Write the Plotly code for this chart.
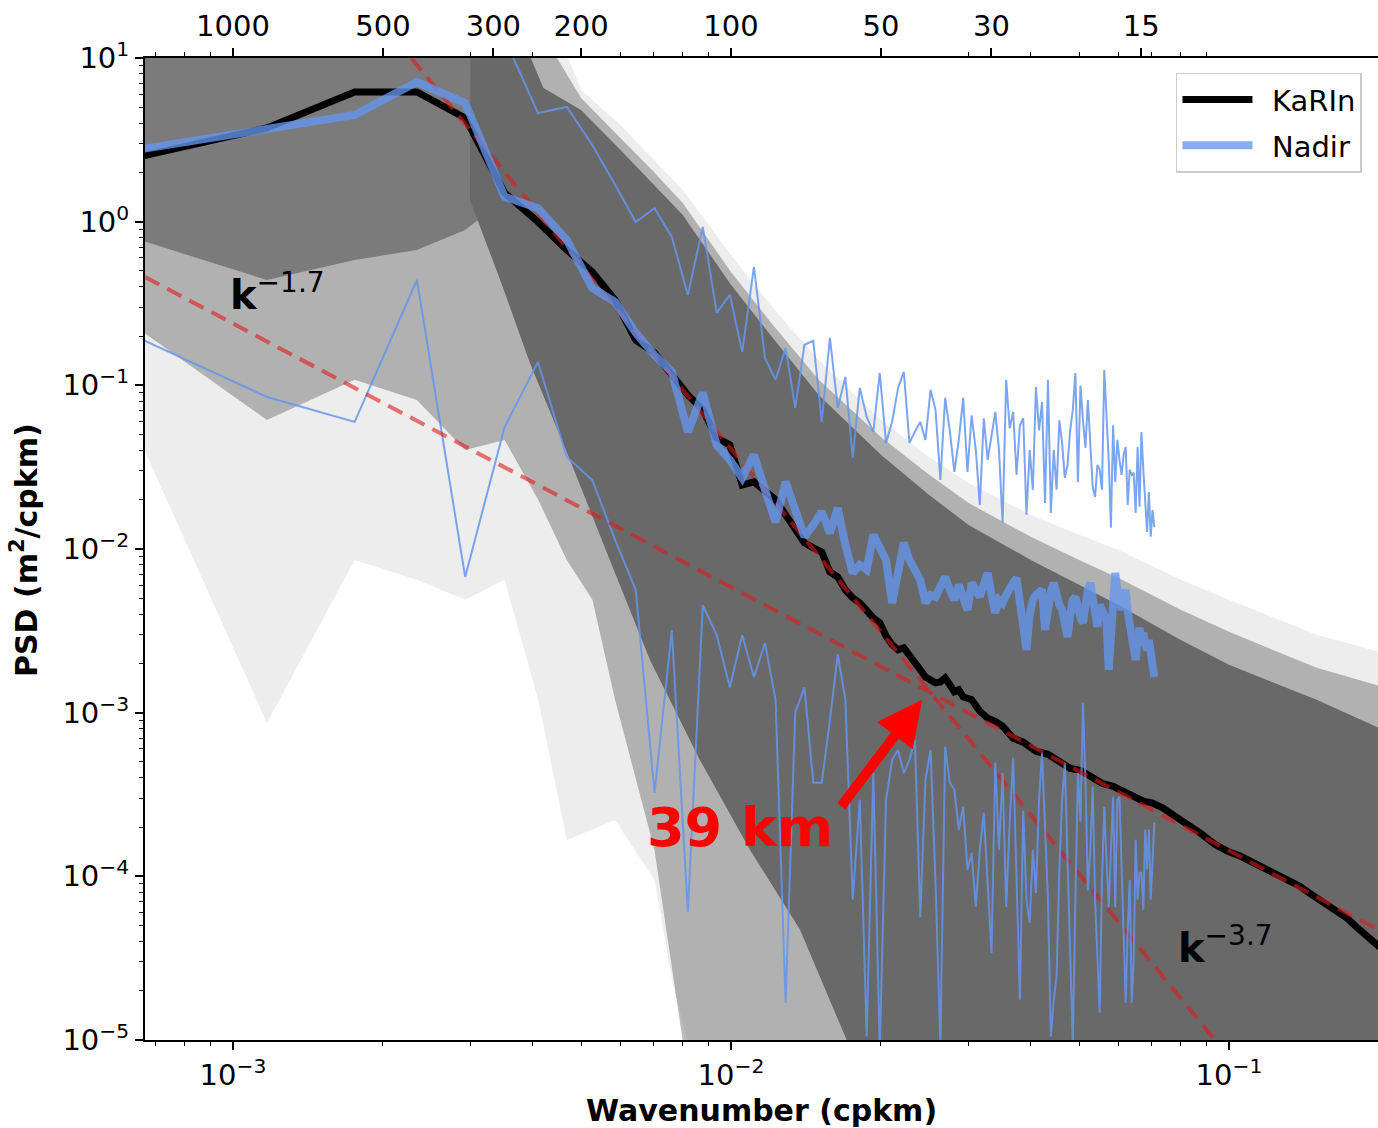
import math
import plotly.graph_objects as go

# ------------------------------------------------------------------ data
DK = 1.0 / 1709.0          # fundamental wavenumber of the spectra (cpkm)

# Nadir spectra on harmonic index n = 1..121
nadir_n = list(range(1, 122))
nadir_mean_psd = [
    2.63, 3.68, 4.49, 7.13, 5.31, 1.42, 1.21, 0.773, 0.394, 0.323,
    0.209, 0.153, 0.121, 0.0519, 0.0899, 0.0432, 0.0350, 0.0272, 0.0376, 0.0230,
    0.0146, 0.0257, 0.0173, 0.0119, 0.0140, 0.0169, 0.0125, 0.0178, 0.0106, 0.00714,
    0.00800, 0.00746, 0.0122, 0.00987, 0.00858, 0.00468, 0.00746, 0.0109, 0.00858, 0.00725,
    0.00648, 0.00468, 0.00524, 0.00510, 0.00604, 0.00675, 0.00563, 0.00489, 0.00604, 0.00524,
    0.00425, 0.00621, 0.00547, 0.00510, 0.00604, 0.00714, 0.00524, 0.00407, 0.00489, 0.00468,
    0.00524, 0.00587, 0.00621, 0.00666, 0.00489, 0.00369, 0.00242, 0.00396, 0.00489, 0.00524,
    0.00547, 0.00563, 0.00320, 0.00455, 0.00547, 0.00621, 0.00503, 0.00455, 0.00425, 0.00344,
    0.00290, 0.00396, 0.00489, 0.00510, 0.00425, 0.00379, 0.00354, 0.00489, 0.00563, 0.00621,
    0.00489, 0.00396, 0.00334, 0.00455, 0.00413, 0.00379, 0.00369, 0.00183, 0.00320, 0.00563,
    0.00714, 0.00563, 0.00489, 0.00425, 0.00489, 0.00563, 0.00413, 0.00344, 0.00290, 0.00242,
    0.00210, 0.00278, 0.00330, 0.00278, 0.00307, 0.00260, 0.00242, 0.00278, 0.00219, 0.00196,
    0.00165]

nadir_lo_psd = [
    0.224, 0.0849, 0.0598, 0.440, 0.00675, 0.0557, 0.139, 0.0365, 0.0264, 0.01136,
    0.00563, 3.24e-4, 0.00319, 6.07e-5, 0.00454, 0.00298, 0.00143, 0.00298, 0.00165, 0.00266,
    0.0012, 1.69e-5, 0.0010, 0.00143, 3.73e-4, 3.73e-4, 9.0e-4, 0.00227, 0.0012, 7.2e-5,
    2.93e-4, 1.05e-5, 4.28e-4, 8.7e-6, 2.93e-4, 5.15e-4, 5.92e-4, 4.28e-4, 5.15e-4, 6.82e-4,
    5.64e-5, 3.89e-4, 5.92e-4, 9.1e-5, 9.3e-6, 6.18e-4, 3.73e-4, 3.38e-4, 1.93e-4, 2.66e-4,
    1.10e-4, 1.39e-4, 6.5e-5, 1.45e-4, 2.45e-4, 9.5e-5, 3.4e-5, 4.94e-4, 1.45e-4, 4.28e-4,
    6.5e-5, 2.16e-4, 5.3e-4, 9.5e-5, 1.76e-5, 2.52e-4, 7.2e-5, 5.19e-5, 1.45e-4, 7.9e-5,
    2.93e-4, 5.68e-4, 1.85e-4, 7.2e-5, 1.05e-5, 1.76e-5, 2.43e-5, 1.10e-4, 2.93e-4, 4.94e-4,
    1.26e-4, 3.08e-5, 9.3e-6, 7.2e-5, 4.28e-4, 2.16e-4, 1.15e-3, 3.89e-4, 8.2e-5, 1.45e-4,
    3.53e-4, 7.2e-5, 3.57e-5, 1.47e-5, 9.5e-5, 2.66e-4, 1.26e-4, 6.5e-5, 1.45e-4, 3.06e-4,
    6.5e-5, 2.93e-4, 3.06e-4, 1.10e-4, 4.7e-5, 1.69e-5, 4.7e-5, 9.5e-5, 1.69e-5, 3.08e-5,
    1.67e-4, 7.2e-5, 1.05e-4, 1.05e-4, 6.25e-5, 1.93e-4, 1.10e-4, 1.93e-4, 7.2e-5, 1.32e-4,
    2.13e-4]

nadir_hi_n = list(range(6, 122))
nadir_hi_psd = [
    13.2, 4.61, 5.02, 2.94, 1.68,
    0.996, 1.21, 0.806, 0.357, 0.928, 0.277, 0.357, 0.160, 0.529, 0.147,
    0.108, 0.169, 0.0728, 0.177, 0.187, 0.0598, 0.195, 0.0728, 0.1125, 0.036,
    0.0964, 0.0641, 0.0519, 0.119, 0.0445, 0.0598, 0.0964, 0.121, 0.0445, 0.052,
    0.0598, 0.0464, 0.0939, 0.0708, 0.0264, 0.0838, 0.0531, 0.0296, 0.0464, 0.0838,
    0.0296, 0.0656, 0.0403, 0.0186, 0.0629, 0.0350, 0.0498, 0.0688, 0.0403, 0.0144,
    0.108, 0.0546, 0.0688, 0.0284, 0.0570, 0.0629, 0.0162, 0.0403, 0.023, 0.0978,
    0.0531, 0.0792, 0.0191, 0.108, 0.0166, 0.0403, 0.023, 0.0611, 0.0445, 0.0272,
    0.0326, 0.0531, 0.0708, 0.119, 0.0257, 0.0996, 0.0611, 0.0415, 0.0814, 0.0403,
    0.0240, 0.0208, 0.0326, 0.0305, 0.023, 0.124, 0.0611, 0.035, 0.0135, 0.057,
    0.0257, 0.0464, 0.035, 0.0284, 0.0376, 0.042, 0.0186, 0.0305, 0.0284, 0.0292,
    0.0166, 0.042, 0.0181, 0.0519, 0.0305, 0.0181, 0.0127, 0.0223, 0.0119, 0.0173,
    0.0136]

# KaRIn mean spectrum
karin_n = list(range(1, 51)) + [52, 54, 56, 58, 60, 63, 66, 70, 74, 78, 82, 86, 90, 95, 100,
                                105, 110, 115, 120, 126, 133, 140, 150, 160, 170, 180, 190,
                                200, 212, 225, 237, 250, 265, 280, 295, 310, 330, 345]
karin_psd = [
    2.32, 3.74, 6.20, 6.20, 4.30, 1.50, 0.996, 0.672, 0.493, 0.332,
    0.189, 0.158, 0.116, 0.0874, 0.0708, 0.0477, 0.0432, 0.0246, 0.0257, 0.0224,
    0.0200, 0.01615, 0.0131, 0.0109, 0.01016, 0.0096, 0.00725, 0.00675, 0.00563, 0.00503,
    0.00468, 0.00413, 0.00379, 0.00354, 0.00294, 0.0026, 0.00242, 0.00249, 0.00227, 0.00201,
    0.00183, 0.00165, 0.00159, 0.00152, 0.00154, 0.00163, 0.00148, 0.00134, 0.00138, 0.00125,
    0.00120, 0.00102, 9.24e-4, 8.86e-4, 8.26e-4, 6.98e-4, 6.60e-4, 5.81e-4, 5.57e-4, 4.98e-4,
    4.57e-4, 4.45e-4, 4.09e-4, 3.70e-4, 3.55e-4, 3.31e-4, 3.08e-4, 2.88e-4, 2.80e-4, 2.61e-4,
    2.33e-4, 2.11e-4, 1.83e-4, 1.57e-4, 1.42e-4, 1.33e-4, 1.22e-4, 1.15e-4, 1.04e-4, 9.47e-5,
    8.70e-5, 7.77e-5, 6.95e-5, 6.12e-5, 5.55e-5, 4.82e-5, 4.13e-5, 3.64e-5]

# power-law fits (end points)
fit_steep_k = [2.28e-3, 9.37e-2]
fit_steep_psd = [10.0, 1.0e-5]
fit_shallow_k = [6.66e-4, 0.2]
fit_shallow_psd = [0.459, 4.7e-5]

# envelopes of the individual KaRIn spectra (grey bundle), closed polygons
env_light_k = [6.5e-4, 4.3e-3, 0.005, 0.006, 0.007, 0.008, 0.01, 0.012, 0.015, 0.02, 0.025,
               0.03, 0.04, 0.05, 0.06, 0.08, 0.1, 0.15, 0.25,
               0.25, 8.67e-3, 7.65e-3, 7.02e-3, 5.85e-3, 4.68e-3, 4.10e-3, 3.51e-3, 2.925e-3,
               2.34e-3, 1.755e-3, 1.17e-3, 6.5e-4]
env_light_psd = [20, 20, 6.37, 3.90, 2.38, 1.56, 0.626, 0.310, 0.143, 0.0615, 0.0365,
                 0.0253, 0.01615, 0.0122, 0.00987, 0.00648, 0.00489, 0.00299, 0.00196,
                 5e-6, 5e-6, 2.17e-5, 9.5e-5, 2.21e-4, 1.67e-4, 0.0012, 0.00648, 0.00489,
                 0.00648, 0.00858, 8.65e-4, 0.0464]

env_mid_k = [6.5e-4, 3.9e-3, 0.005, 0.006, 0.007, 0.008, 0.01, 0.012, 0.015, 0.02, 0.025,
             0.03, 0.04, 0.05, 0.06, 0.08, 0.1, 0.15, 0.25,
             0.25, 8.27e-3, 7.02e-3, 5.85e-3, 5.27e-3, 4.68e-3, 4.10e-3, 3.51e-3, 2.925e-3,
             2.34e-3, 1.755e-3, 1.17e-3, 6.5e-4]
env_mid_psd = [20, 20, 5.70, 3.25, 2.01, 1.30, 0.493, 0.244, 0.108, 0.0484, 0.0284,
               0.0191, 0.01186, 0.00858, 0.00666, 0.00425, 0.00312, 0.00188, 0.0012,
               5e-6, 5e-6, 1.45e-4, 0.0012, 0.00489, 0.00858, 0.020, 0.0464, 0.0403,
               0.0814, 0.108, 0.0615, 0.218]

env_top_k = [6.5e-4, 0.0036, 3.51e-3, 2.925e-3, 2.34e-3, 1.755e-3, 1.17e-3, 6.5e-4]
env_top_psd = [20, 20, 1.36, 0.89, 0.672, 0.583, 0.44, 0.773]

env_core_k = [0.003, 0.0036, 0.0042, 0.005, 0.006, 0.007, 0.008, 0.01, 0.012, 0.015, 0.02,
              0.025, 0.03, 0.04, 0.05, 0.06, 0.08, 0.1, 0.15, 0.25,
              0.25, 0.0188, 0.01376, 0.01092, 8.67e-3, 6.88e-3, 5.71e-3, 4.75e-3, 3.95e-3,
              3.44e-3, 2.99e-3]
env_core_psd = [20, 20, 6.56, 4.81, 2.74, 1.68, 1.10, 0.411, 0.203, 0.0874, 0.0376,
                0.0214, 0.0140, 0.00858, 0.00604, 0.00455, 0.00278, 0.00196, 0.0012, 5.92e-4,
                5e-6, 5e-6, 4.71e-5, 1.45e-4, 5.11e-4, 2.09e-3, 8.58e-3, 0.035, 0.136,
                0.44, 1.36]

# axis ticks
x_major = [1e-3, 1e-2, 1e-1]
x_major_text = ["10<sup>−3</sup>", "10<sup>−2</sup>", "10<sup>−1</sup>"]
y_major = [1e-5, 1e-4, 1e-3, 1e-2, 1e-1, 1.0, 10.0]
y_major_text = ["10<sup>−5</sup>", "10<sup>−4</sup>", "10<sup>−3</sup>", "10<sup>−2</sup>",
                "10<sup>−1</sup>", "10<sup>0</sup>", "10<sup>1</sup>"]
top_km = [1000, 500, 300, 200, 100, 50, 30, 15]
top_minor_k = [7e-4, 8e-4, 9e-4, 3e-3, 4e-3, 6e-3, 7e-3, 8e-3, 9e-3,
               0.03, 0.04, 0.05, 0.06, 0.07, 0.08, 0.09]

# annotation anchors (data coordinates)
label_shallow = (1.23e-3, 0.372)
label_steep = (0.0986, 3.82e-5)
label_39 = (0.01042, 1.98e-4)
arrow_head = (0.0242, 1.2e-3)

# ------------------------------------------------------------------ figure
X_RANGE = [-3.1767, -0.7008]
Y_RANGE = [-5, 1]
FONT = "DejaVu Sans"
GREY = "105,105,105"
BLUE = "100,149,237"
RED = "rgba(225,25,25,0.6)"

fig = go.Figure()

for k, p, a in [(env_light_k, env_light_psd, 0.12),
                (env_mid_k, env_mid_psd, 0.45),
                (env_top_k, env_top_psd, 0.75),
                (env_core_k, env_core_psd, 1.0)]:
    fig.add_trace(go.Scatter(x=k, y=p, mode="lines", fill="toself",
                             fillcolor=f"rgba({GREY},{a})", line=dict(width=0),
                             showlegend=False, hoverinfo="skip"))

fig.add_trace(go.Scatter(x=[n * DK for n in karin_n], y=karin_psd, mode="lines",
                         name="\u2002KaRIn", legendgroup="karin",
                         line=dict(color="black", width=7)))

fig.add_trace(go.Scatter(x=fit_steep_k, y=fit_steep_psd, mode="lines", showlegend=False,
                         line=dict(color=RED, width=4, dash="16px,9px")))
fig.add_trace(go.Scatter(x=fit_shallow_k, y=fit_shallow_psd, mode="lines", showlegend=False,
                         xaxis="x2", line=dict(color=RED, width=4, dash="16px,9px")))

fig.add_trace(go.Scatter(x=[n * DK for n in nadir_hi_n], y=nadir_hi_psd, mode="lines",
                         showlegend=False, line=dict(color=f"rgba({BLUE},0.85)", width=2)))
fig.add_trace(go.Scatter(x=[n * DK for n in nadir_n], y=nadir_lo_psd, mode="lines",
                         showlegend=False, line=dict(color=f"rgba({BLUE},0.85)", width=2)))
fig.add_trace(go.Scatter(x=[n * DK for n in nadir_n], y=nadir_mean_psd, mode="lines",
                         name="\u2002Nadir", legendgroup="nadir",
                         line=dict(color=f"rgba({BLUE},0.78)", width=8)))


def minor_vals(lo, hi):
    out = []
    for e in range(lo, hi):
        for m in range(2, 10):
            out.append(m * 10.0 ** e)
    return out


axis_common = dict(showgrid=False, zeroline=False, showline=True, linecolor="black",
                   linewidth=2, ticks="outside", ticklen=8, tickwidth=1.5, tickcolor="black",
                   tickfont=dict(family=FONT, size=29, color="black"))

fig.update_layout(
    width=1378, height=1128,
    margin=dict(l=145, r=0, t=58, b=88),
    paper_bgcolor="white", plot_bgcolor="white",
    font=dict(family=FONT, size=29, color="black"),
    xaxis=dict(type="log", range=X_RANGE, tickmode="array", tickvals=x_major,
               ticktext=x_major_text,
               minor=dict(tickmode="array", tickvals=minor_vals(-4, 0), ticks="outside",
                          ticklen=4, tickwidth=1, tickcolor="black", showgrid=False),
               **axis_common),
    xaxis2=dict(type="log", range=X_RANGE, overlaying="x", side="top", anchor="y",
                tickmode="array", tickvals=[1.0 / v for v in top_km],
                ticktext=[str(v) for v in top_km],
                minor=dict(tickmode="array", tickvals=top_minor_k, ticks="outside",
                           ticklen=4, tickwidth=1, tickcolor="black", showgrid=False),
                **axis_common),
    yaxis=dict(type="log", range=Y_RANGE, tickmode="array", tickvals=y_major,
               ticktext=y_major_text,
               minor=dict(tickmode="array", tickvals=minor_vals(-5, 1), ticks="outside",
                          ticklen=4, tickwidth=1, tickcolor="black", showgrid=False),
               **axis_common),
    legend=dict(x=0.987, y=0.985, xanchor="right", yanchor="top", bgcolor="white",
                bordercolor="#cccccc", borderwidth=1.5, font=dict(family=FONT, size=29),
                itemwidth=70, tracegroupgap=5),
    showlegend=True,
)

ann = []
ann.append(dict(x=math.log10(label_shallow[0]), y=math.log10(label_shallow[1]), xref="x",
                yref="y", text="<b>k</b><sup>−1.7</sup>", showarrow=False,
                font=dict(family=FONT, size=40, color="black")))
ann.append(dict(x=math.log10(label_steep[0]), y=math.log10(label_steep[1]), xref="x",
                yref="y", text="<b>k</b><sup>−3.7</sup>", showarrow=False,
                font=dict(family=FONT, size=40, color="black")))
ann.append(dict(x=math.log10(label_39[0]), y=math.log10(label_39[1]), xref="x", yref="y",
                text="<b>39 km</b>", showarrow=False,
                font=dict(family=FONT, size=54, color="red")))
ann.append(dict(x=math.log10(arrow_head[0]), y=math.log10(arrow_head[1]), xref="x",
                yref="y", text="", showarrow=True, ax=-82, ay=108, arrowhead=2,
                arrowsize=0.9, arrowwidth=10, arrowcolor="red", standoff=0))
ann.append(dict(x=0.5004, y=-0.0713, xref="paper", yref="paper", xanchor="center",
                yanchor="middle", text="<b>Wavenumber (cpkm)</b>", showarrow=False,
                font=dict(family=FONT, size=30, color="black")))
ann.append(dict(x=-0.0973, y=0.499, xref="paper", yref="paper", textangle=-90,
                xanchor="center", yanchor="middle",
                text="<b>PSD (m<sup>2</sup>/cpkm)</b>", showarrow=False,
                font=dict(family=FONT, size=30, color="black")))
fig.update_layout(annotations=ann)

fig.write_html("out.html")
